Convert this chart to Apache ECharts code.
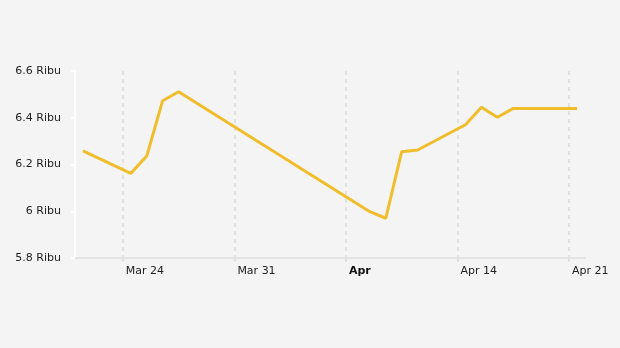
<!DOCTYPE html>
<html>
<head>
<meta charset="utf-8">
<script src="https://cdn.jsdelivr.net/npm/echarts@6/dist/echarts.min.js"></script>
<style>
html,body{margin:0;padding:0;background:#f4f4f4;}
#c{width:620px;height:348px;}
</style>
</head>
<body>
<div id="c"></div>
<script>
// Trading dates (2025) and closing prices
var dates = ['2025-03-21','2025-03-24','2025-03-25','2025-03-26','2025-03-27','2025-04-08','2025-04-09','2025-04-10','2025-04-11','2025-04-14','2025-04-15','2025-04-16','2025-04-17','2025-04-21'];
var prices = [6258, 6162, 6236, 6473, 6511, 5998, 5970, 6255, 6262, 6370, 6445, 6402, 6440, 6440];
// x-axis tick dates and labels
var tickDates = ['2025-03-24','2025-03-31','2025-04-07','2025-04-14','2025-04-21'];
var tickLabels = ['Mar 24','Mar 31','Apr','Apr 14','Apr 21'];
var tickBold = [false,false,true,false,false];
var axisStart = '2025-03-21';
var axisEnd = '2025-04-22';
var yTicks = [5800, 6000, 6200, 6400, 6600];

var DAY = 86400000;
var ref = Date.UTC(2025,2,24);
function dayOf(s){ var p=s.split('-'); return (Date.UTC(+p[0],+p[1]-1,+p[2]) - ref)/DAY; }
var tickVals = tickDates.map(dayOf);
var seriesData = dates.map(function(d,i){ return [dayOf(d)+0.5, prices[i]]; });

var chart = echarts.init(document.getElementById('c'));
chart.setOption({
  backgroundColor:'#f4f4f4',
  animation:false,
  grid:{left:75,right:35,top:71,bottom:90,containLabel:false},
  xAxis:{
    type:'value',
    min:dayOf(axisStart), max:dayOf(axisEnd),
    axisLine:{show:true,onZero:false,lineStyle:{color:'#e3e3e3',width:2}},
    axisTick:{show:true,customValues:tickVals,length:4,lineStyle:{color:'#dcdcdc',width:1.5,type:[4,4]}},
    splitLine:{show:true,lineStyle:{color:'#dcdcdc',width:1.5,type:[4,4]}},
    axisLabel:{
      customValues:tickVals,
      align:'left',
      margin:8,
      padding:[0,0,0,3],
      color:'#222',
      fontFamily:'DejaVu Sans',
      fontSize:11,
      formatter:function(v){
        var i=tickVals.indexOf(v);
        if(i<0) return '';
        return tickBold[i] ? '{b|'+tickLabels[i]+'}' : tickLabels[i];
      },
      rich:{b:{fontWeight:'bold',color:'#111',fontFamily:'DejaVu Sans',fontSize:11}}
    }
  },
  yAxis:{
    type:'value',
    min:yTicks[0], max:yTicks[yTicks.length-1], interval:200,
    axisLine:{show:true,onZero:false,lineStyle:{color:'#ffffff',width:2}},
    axisTick:{show:true,length:4,lineStyle:{color:'#ffffff',width:2}},
    splitLine:{show:false},
    axisLabel:{
      margin:14,
      color:'#222',
      fontFamily:'DejaVu Sans',
      fontSize:11,
      formatter:function(v){ return (v/1000)+' Ribu'; }
    }
  },
  series:[{
    type:'line',
    data:seriesData,
    showSymbol:false,
    symbol:'none',
    lineStyle:{color:'#f0bd2c',width:3},
    itemStyle:{color:'#f0bd2c'}
  }]
});
</script>
</body>
</html>
